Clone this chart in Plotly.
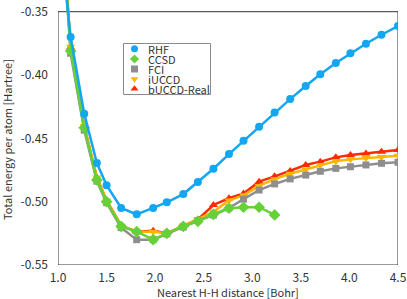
import plotly.graph_objects as go

# ---------------- data ----------------
x_all = [1.00, 1.13, 1.27, 1.40, 1.50, 1.65, 1.81, 1.98, 2.12, 2.29, 2.44, 2.60,
         2.76, 2.91, 3.07, 3.23, 3.39, 3.55, 3.70, 3.86, 4.01, 4.17, 4.33, 4.50]

rhf = [-0.277, -0.370, -0.4305, -0.4695, -0.487, -0.505, -0.510, -0.505, -0.5005,
       -0.494, -0.4845, -0.474, -0.4624, -0.4519, -0.4408, -0.4295, -0.419, -0.4087,
       -0.3994, -0.3905, -0.3829, -0.3753, -0.3682, -0.3613]

ccsd = [-0.232, -0.381, -0.4416, -0.4829, -0.500, -0.5195, -0.5237, -0.530, -0.5250,
        -0.5195, -0.5155, -0.510, -0.5052, -0.5044, -0.5044, -0.5105]

fci = [-0.232, -0.3828, -0.4435, -0.4838, -0.5008, -0.5205, -0.530, -0.530, -0.5255,
       -0.520, -0.515, -0.5105, -0.505, -0.498, -0.4908, -0.486, -0.482, -0.479,
       -0.476, -0.4737, -0.4724, -0.471, -0.4697, -0.4689]

iuccd = [-0.232, -0.3776, -0.4403, -0.481, -0.499, -0.519, -0.5237, -0.5237, -0.525,
         -0.519, -0.514, -0.508, -0.499, -0.495, -0.4876, -0.4822, -0.478, -0.4745,
         -0.471, -0.468, -0.4666, -0.4655, -0.4647, -0.4637]

buccd = [-0.232, -0.378, -0.4405, -0.481, -0.499, -0.519, -0.5237, -0.523, -0.525,
         -0.519, -0.514, -0.5026, -0.4973, -0.4935, -0.4842, -0.480, -0.4758, -0.4711,
         -0.4684, -0.465, -0.4632, -0.4619, -0.4605, -0.4592]

names = ["RHF", "CCSD", "FCI", "iUCCD", "bUCCD-Real"]
colors = ["#13A6F2", "#66D137", "#8E8E8E", "#FFB400", "#FF2A00"]
symbols = ["circle", "diamond", "square", "triangle-down", "triangle-up"]
sizes = [8, 9, 7, 8, 8]
series = [rhf, ccsd, fci, iuccd, buccd]

x_ticks = [1.0, 1.5, 2.0, 2.5, 3.0, 3.5, 4.0, 4.5]
y_ticks = [-0.55, -0.50, -0.45, -0.40, -0.35]
x_title = "Nearest H-H distance [Bohr]"
y_title = "Total energy per atom [Hartree]"

FONT = "Noto Sans CJK JP"
TXT = "#333333"

fig = go.Figure()

# draw bottom-most first: bUCCD, iUCCD, FCI, CCSD, RHF
for i in [4, 3, 2, 1, 0]:
    ys = series[i]
    fig.add_trace(go.Scatter(
        x=x_all[:len(ys)], y=ys, mode="lines+markers", name=names[i],
        line=dict(color=colors[i], width=2.5),
        marker=dict(symbol=symbols[i], size=sizes[i], color=colors[i]),
        showlegend=False,
    ))

# ---------------- custom compact legend (pixel axes) ----------------
leg_x = 134.5
leg_text_x = 145.5
leg_y = [48.7, 59.0, 69.0, 79.0, 88.7]
for i in range(5):
    fig.add_trace(go.Scatter(
        x=[leg_x], y=[leg_y[i]], xaxis="x2", yaxis="y2", mode="markers",
        marker=dict(symbol=symbols[i], size=7, color=colors[i]),
        showlegend=False, hoverinfo="skip",
    ))
    fig.add_annotation(x=leg_text_x, y=leg_y[i], xref="x2", yref="y2",
                       text=names[i], showarrow=False, xanchor="left",
                       yanchor="middle", font=dict(family=FONT, size=11, color=TXT))

fig.add_shape(type="rect", xref="x2", yref="y2", x0=123.5, x1=210.5, y0=43.5, y1=94.5,
              line=dict(color="#8a8a8a", width=1), fillcolor="white", layer="below")

# plot frame
fig.add_shape(type="rect", xref="x", yref="y", x0=1.0, x1=4.5, y0=-0.55, y1=-0.35,
              line=dict(color="#333333", width=1), layer="below")

# axis titles (paper coords relative to plot area 340x265)
fig.add_annotation(x=0.5, y=-27 / 265, xref="paper", yref="paper",
                   text=x_title, showarrow=False, xanchor="center", yanchor="middle",
                   font=dict(family=FONT, size=11, color=TXT))
fig.add_annotation(x=-51 / 340, y=1 - 140 / 265, xref="paper", yref="paper",
                   text=y_title, showarrow=False, textangle=-90,
                   xanchor="center", yanchor="middle",
                   font=dict(family=FONT, size=11, color=TXT))

fig.update_layout(
    width=407, height=299,
    margin=dict(l=58, r=9, t=0, b=34, autoexpand=False),
    paper_bgcolor="white", plot_bgcolor="white",
    font=dict(family=FONT, size=12, color=TXT),
    xaxis=dict(range=[1.0, 4.5], tickvals=x_ticks, ticktext=[f"{v:.1f}" for v in x_ticks],
               showgrid=False, zeroline=False, showline=False, ticks="",
               ticklabelstandoff=4, automargin=False),
    yaxis=dict(range=[-0.55, -0.34076], tickvals=y_ticks,
               ticktext=[f"{v:.2f}" for v in y_ticks],
               showgrid=False, zeroline=False, showline=False, ticks="",
               ticklabelstandoff=9, automargin=False),
    xaxis2=dict(range=[58, 398], overlaying="x", visible=False, fixedrange=True,
                automargin=False),
    yaxis2=dict(range=[265, 0], overlaying="y", visible=False, fixedrange=True,
                automargin=False),
)

fig.write_html("out.html", config={"displayModeBar": False},
               post_script="document.body.style.margin='0';document.body.style.padding='0';")
